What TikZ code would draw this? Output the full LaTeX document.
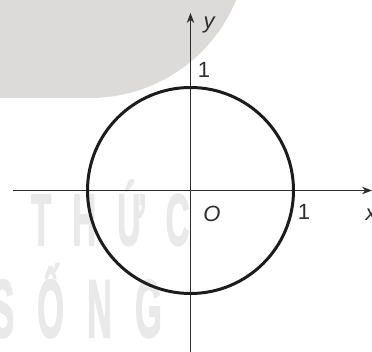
\documentclass[tikz,border=0pt]{standalone}
\usepackage{fontspec}
\setmainfont{Liberation Sans}
\newfontfamily\wmfont{Liberation Sans Bold}[FakeBold=2.5]
\usetikzlibrary{arrows.meta}
\definecolor{blob}{RGB}{221,219,217}
\definecolor{wm}{RGB}{233,233,233}
\definecolor{axiscol}{RGB}{45,45,45}
\definecolor{curvecol}{RGB}{28,28,28}
\begin{document}
\begin{tikzpicture}[x=1pt,y=1pt,
  axisline/.style={draw=axiscol,line width=1.2pt,-{Stealth[length=10pt,width=7.5pt]}},
  lbl/.style={font=\fontsize{22}{26}\selectfont,text=axiscol,inner sep=0pt},
  wmtext/.style={text=wm,inner sep=0pt,anchor=base west}]
\useasboundingbox (0,0) rectangle (372,351);
\fill[blob] (0,351) -- (0,253) -- (90,253) arc[start angle=270,end angle=337.7,radius=158] -- cycle;
\node[wmtext,font=\wmfont\fontsize{73}{73}\selectfont] (w1) at (31,106) {\scalebox{0.45}[1]{T\kern47pt H\kern47pt Ứ\kern47pt C}};
\node[wmtext,font=\wmfont\fontsize{82}{82}\selectfont] (w2) at (-9,14) {\scalebox{0.42}[1]{S\kern55pt Ố\kern55pt N\kern55pt G}};
\coordinate (O) at (190.5,160.5);
\coordinate (xs) at (13,160.5);
\coordinate (xe) at (372,160.5);
\coordinate (ys) at (190.5,-2);
\coordinate (ye) at (190.5,338);
\draw[axisline] (xs) -- (xe);
\draw[axisline] (ys) -- (ye);
\draw[curvecol,line width=3pt] (O) circle[radius=103];
\node[lbl] (ly) at (209,326) {\itshape y};
\node[lbl] (l1y) at (204,281) {1};
\node[lbl] (lO) at (212,137) {\itshape O};
\node[lbl] (l1x) at (304,139) {1};
\node[lbl] (lx) at (371,136) {\itshape x};
\end{tikzpicture}
\end{document}
